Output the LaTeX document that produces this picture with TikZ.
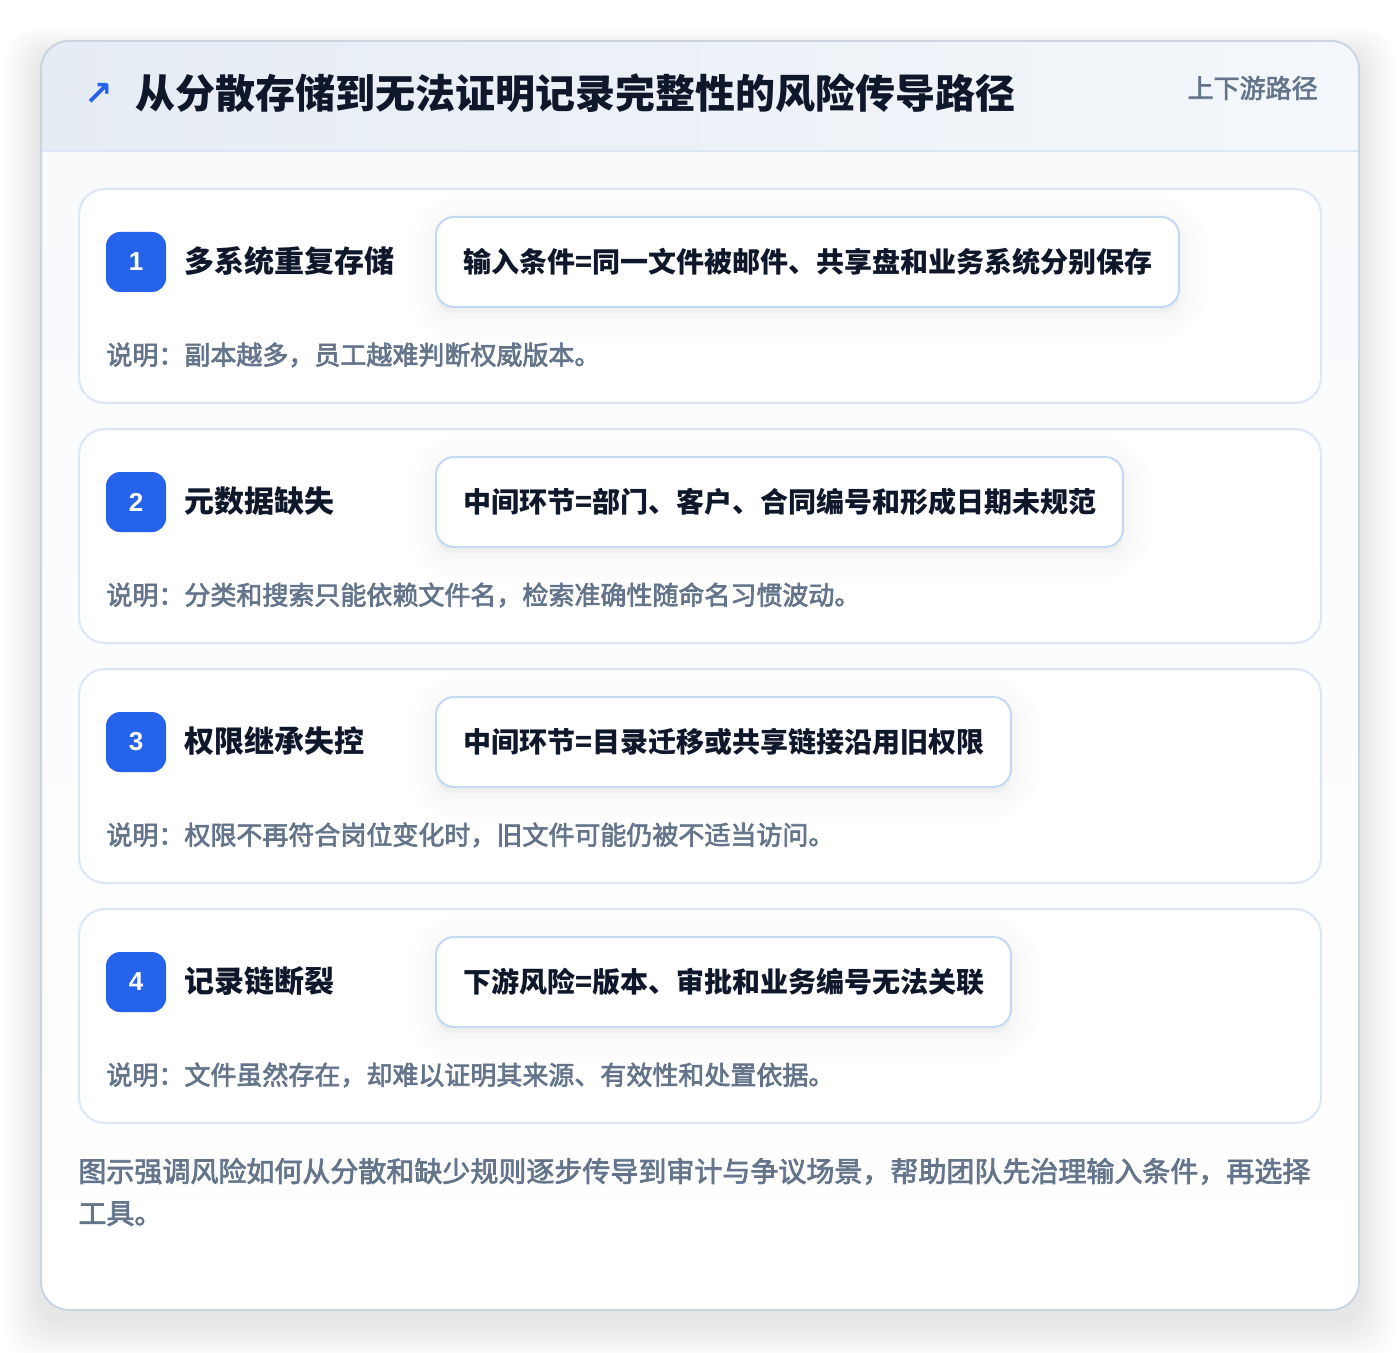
\documentclass[tikz,border=0pt]{standalone}
\usepackage{fontspec}
\setmainfont{Noto Sans CJK SC}
\newfontfamily\medfont{Noto Sans CJK SC}[FakeBold=2.5]
\newfontfamily\symfont{DejaVu Sans}
\newfontfamily\numfont{Liberation Sans}
\usetikzlibrary{shadows}

\definecolor{accent}{HTML}{2563EB}
\definecolor{ink}{HTML}{0F172A}
\definecolor{muted}{HTML}{64748B}
\definecolor{outerline}{HTML}{CBD5E1}
\definecolor{cardline}{HTML}{DBE7F6}
\definecolor{boxline}{HTML}{C3D8F3}
\definecolor{headleft}{HTML}{E6ECF4}
\definecolor{headright}{HTML}{F4F7FB}
\definecolor{bodytop}{HTML}{F7F9FC}

\begin{document}
\begin{tikzpicture}[x=0.5pt,y=-0.5pt,
    card/.style={draw=cardline, fill=white, rounded corners=13pt, line width=1pt},
    badge/.style={fill=accent, rounded corners=7pt, minimum size=30pt, inner sep=0pt,
        text=white, font=\numfont\bfseries\fontsize{13}{13}\selectfont},
    steptitle/.style={anchor=west, inner sep=0pt, text=ink,
        font=\bfseries\fontsize{15}{18}\selectfont},
    softshadow/.style={general shadow={fill=black, draw=black, opacity=0.007,
        line width=#1, shadow yshift=-3pt}},
    inbox/.style={draw=boxline, fill=white, rounded corners=9pt, line width=1pt,
        minimum height=45pt, inner xsep=13.5pt, anchor=west, text=ink,
        font=\bfseries\fontsize{14}{17}\selectfont,
        softshadow=26pt, softshadow=18pt, softshadow=11pt, softshadow=5pt},
    note/.style={anchor=west, inner sep=0pt, text=muted,
        font=\medfont\fontsize{13}{16}\selectfont}]

    \useasboundingbox (0,0) rectangle (1400,1352);
    \fill[white] (0,0) rectangle (1400,1352);

    % Outer shadow
    \foreach \s in {1,...,12}
        \fill[black, opacity=0.006, rounded corners=14pt]
            (41-\s*3,53-\s*2) rectangle (1359+\s*3,1322+\s*3);

    % Outer card
    \fill[top color=bodytop, bottom color=white, rounded corners=14pt] (41,41) rectangle (1359,1310);
    \begin{scope}
        \clip[rounded corners=14pt] (41,41) rectangle (1359,1310);
        \shade[left color=headleft, right color=headright] (41,41) rectangle (1359,151);
        \draw[cardline, line width=1pt] (41,151) -- (1359,151);
    \end{scope}
    \draw[outerline, line width=1pt, rounded corners=14pt] (41,41) rectangle (1359,1310);

    % Header
    \node[anchor=west, inner sep=0pt, text=accent, font=\symfont\bfseries\fontsize{17}{17}\selectfont]
        (arrow) at (84,94) {↗};
    \node[anchor=west, inner sep=0pt, text=ink, font=\bfseries\fontsize{20}{24}\selectfont]
        (heading) at (135,93) {从分散存储到无法证明记录完整性的风险传导路径};
    \node[anchor=east, inner sep=0pt, text=muted, font=\medfont\fontsize{13}{16}\selectfont]
        (tag) at (1318,88) {上下游路径};

    % Steps
    \foreach \i/\name/\cond/\expl in {
        1/多系统重复存储/输入条件=同一文件被邮件、共享盘和业务系统分别保存/说明：副本越多，员工越难判断权威版本。,
        2/元数据缺失/中间环节=部门、客户、合同编号和形成日期未规范/说明：分类和搜索只能依赖文件名，检索准确性随命名习惯波动。,
        3/权限继承失控/中间环节=目录迁移或共享链接沿用旧权限/说明：权限不再符合岗位变化时，旧文件可能仍被不适当访问。,
        4/记录链断裂/下游风险=版本、审批和业务编号无法关联/说明：文件虽然存在，却难以证明其来源、有效性和处置依据。}
    {
        \pgfmathsetmacro\cardy{189+240*(\i-1)}
        \draw[card] (79,\cardy) rectangle (1321,\cardy+214);
        \node[badge] (badge\i) at (136,\cardy+73) {\i};
        \node[steptitle] (title\i) at (184,\cardy+72) {\name};
        \node[inbox] (cond\i) at (435,\cardy+73) {\cond};
        \node[note] (note\i) at (106,\cardy+166) {\expl};
    }

    % Footer
    \node[anchor=west, align=left, inner sep=0pt, text=muted, font=\medfont\fontsize{14}{21}\selectfont]
        (footer) at (78,1192)
        {图示强调风险如何从分散和缺少规则逐步传导到审计与争议场景，帮助团队先治理输入条件，再选择\\工具。};
\end{tikzpicture}
\end{document}
